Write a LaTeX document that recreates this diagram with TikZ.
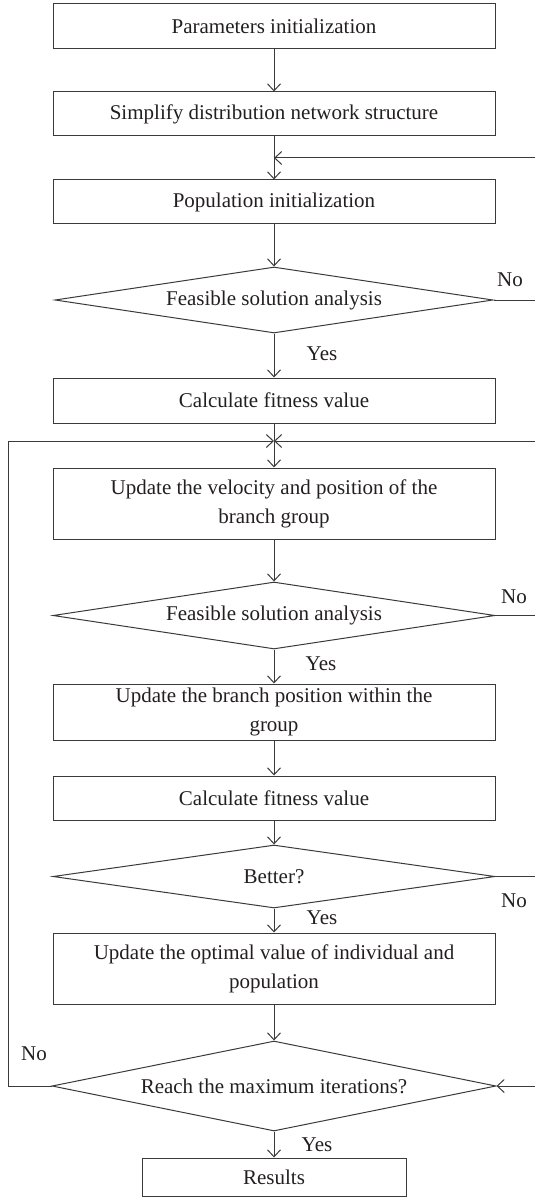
\documentclass[tikz,border=0pt]{standalone}
\usepackage{fontspec}
\setmainfont{Liberation Serif}
\usetikzlibrary{arrows.meta,shapes.geometric}
\definecolor{linec}{HTML}{3A3A3A}
\definecolor{textc}{HTML}{231F20}
\begin{document}
\begin{tikzpicture}[x=1pt,y=-1pt,
  every node/.style={font=\fontsize{21}{29}\selectfont, text=textc},
  procbox/.style={draw=linec, line width=1pt, rectangle, inner sep=0pt, minimum width=442pt, align=center},
  decbox/.style={draw=linec, line width=1pt, diamond, aspect=6.6, inner sep=0pt, minimum width=442pt},
  conn/.style={draw=linec, line width=1pt},
  arr/.style={conn, -{Straight Barb[length=7pt,width=13pt]}},
  lbl/.style={inner sep=0pt}
]
\useasboundingbox (0,0) rectangle (535,1198);

\node[procbox, minimum height=45pt] (b1) at (274,26.5) {Parameters initialization};
\node[procbox, minimum height=44pt] (b2) at (274,114) {Simplify distribution network structure};
\node[procbox, minimum height=44pt] (b3) at (274,202) {Population initialization};
\node[decbox, minimum height=66pt, minimum width=438pt] (d1) at (274,300) {Feasible solution analysis};
\node[procbox, minimum height=45pt] (b4) at (274,400.5) {Calculate fitness value};
\node[procbox, minimum height=71pt] (b5) at (274,503.5) {Update the velocity and position of the\\branch group};
\node[decbox, minimum height=67pt] (d2) at (274,615.5) {Feasible solution analysis};
\node[procbox, minimum height=56pt] (b6) at (274,712) {Update the branch position within the\\group};
\node[procbox, minimum height=44pt] (b7) at (274,798) {Calculate fitness value};
\node[decbox, minimum height=63pt] (d3) at (274,876.5) {Better?};
\node[procbox, minimum height=71pt] (b8) at (274,968.5) {Update the optimal value of individual and\\population};
\node[decbox, minimum height=90pt, minimum width=444pt] (d4) at (274,1086) {Reach the maximum iterations?};
\node[procbox, minimum height=38pt, minimum width=264pt] (b9) at (274,1177) {Results};

% labels
\node[lbl] (n1) at (510,280) {No};
\node[lbl] (y1) at (322,354) {Yes};
\node[lbl] (n2) at (514,597) {No};
\node[lbl] (y2) at (321,664) {Yes};
\node[lbl] (n3) at (514,901) {No};
\node[lbl] (y3) at (322,918) {Yes};
\node[lbl] (n4) at (34,1054) {No};
\node[lbl] (y4) at (317,1145) {Yes};

% junctions and free ends
\coordinate (j1) at (274,158);
\coordinate (r1) at (535,158);
\coordinate (r2) at (535,300);
\coordinate (j2) at (274,441);
\coordinate (r3) at (535,441);
\coordinate (l1) at (8,441);
\coordinate (l2) at (8,1086);
\coordinate (r4) at (535,615.5);
\coordinate (r5) at (535,876.5);
\coordinate (r6) at (535,1086);

% main flow
\draw[arr] (b1.south) -- (b2.north);
\draw[arr] (b2.south) -- (b3.north);
\draw[arr] (b3.south) -- (d1.north);
\draw[arr] (d1.south) -- (b4.north);
\draw[arr] (b4.south) -- (b5.north);
\draw[arr] (b5.south) -- (d2.north);
\draw[arr] (d2.south) -- (b6.north);
\draw[arr] (b6.south) -- (b7.north);
\draw[arr] (b7.south) -- (d3.north);
\draw[arr] (d3.south) -- (b8.north);
\draw[arr] (b8.south) -- (d4.north);
\draw[arr] (d4.south) -- (b9.north);

% loops
\draw[arr] (r1) -- (j1);
\draw[conn] (d1.east) -- (r2);
\draw[arr] (r3) -- (j2);
\draw[arr] (d4.west) -- (l2) -- (l1) -- (j2);
\draw[conn] (d2.east) -- (r4);
\draw[conn] (d3.east) -- (r5);
\draw[arr] (r6) -- (d4.east);
\end{tikzpicture}
\end{document}
